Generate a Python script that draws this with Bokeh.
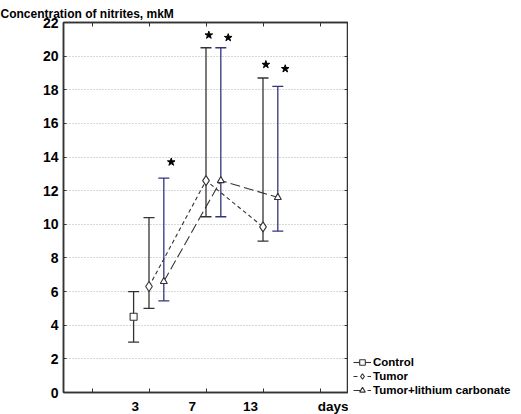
from bokeh.plotting import figure
from bokeh.layouts import row
from bokeh.models import (Range1d, FixedTicker, LinearAxis, Whisker, TeeHead,
                          ColumnDataSource, Legend, LegendItem)
from bokeh.embed import file_html
from bokeh.resources import INLINE

# dias de medicion y posicion de cada grupo en el eje
days = ["3", "7", "13"]
group_pos = [1.5, 2.5, 3.5]

control_mean = [4.5]
control_low = [3.0]
control_high = [6.0]

tumor_mean = [6.3, 12.6, 9.85]
tumor_low = [5.0, 10.45, 9.0]
tumor_high = [10.4, 20.5, 18.7]

lithium_mean = [6.6, 12.6, 11.6]
lithium_low = [5.45, 10.45, 9.6]
lithium_high = [12.75, 20.5, 18.2]

# asteriscos de significancia: (grupo, serie, altura)
star_group = [0, 1, 1, 2, 2]
star_series = ["lithium", "tumor", "lithium", "tumor", "lithium"]
star_y = [13.7, 21.25, 21.1, 19.5, 19.25]

offsets = {"control": -0.27, "tumor": 0.0, "lithium": 0.26}
star_shift = {"tumor": 0.05, "lithium": 0.13}

FONT = "Liberation Sans"
DARK = "#333333"
BLUE = "#33337f"

control_x = [group_pos[0] + offsets["control"]]
tumor_x = [g + offsets["tumor"] for g in group_pos]
lithium_x = [g + offsets["lithium"] for g in group_pos]
sx = [group_pos[g] + offsets[s] + star_shift[s] for g, s in zip(star_group, star_series)]

p = figure(frame_width=285, frame_height=370, output_backend="svg", toolbar_location=None,
           x_range=Range1d(0, 5), y_range=Range1d(0, 22),
           min_border_left=63, min_border_right=0, min_border_top=22,
           min_border_bottom=22, title="Concentration of nitrites, mkM")
p.title.align = "left"
p.title.offset = -63
p.title.standoff = 4
p.title.text_font = FONT
p.title.text_font_style = "bold"
p.title.text_font_size = "12px"
p.title.text_color = "black"
p.outline_line_color = DARK
p.outline_line_width = 1.5
p.background_fill_color = "white"
p.border_fill_color = "white"

p.xgrid.visible = False
p.ygrid.grid_line_color = "#b0b0b0"
p.ygrid.grid_line_dash = "1 2"
p.ygrid.grid_line_width = 1

minor = [0.5, 1.5, 2.5, 3.5, 4.5]
label_pos = [1.26, 2.26, 3.28, 4.9]
p.xaxis.ticker = FixedTicker(ticks=label_pos, minor_ticks=minor)
p.xaxis.major_label_overrides = {label_pos[i]: t for i, t in enumerate(days + ["days"])}
p.xaxis.major_tick_in = 0
p.xaxis.major_tick_out = 0
p.xaxis.minor_tick_in = 4
p.xaxis.minor_tick_out = 0
p.xaxis.minor_tick_line_color = DARK
p.xaxis.axis_line_color = DARK
p.xaxis.axis_line_width = 1.5
p.xaxis.major_label_text_font = FONT
p.xaxis.major_label_text_font_style = "bold"
p.xaxis.major_label_text_font_size = "13.5px"
p.xaxis.major_label_text_color = "black"
p.xaxis.major_label_standoff = 6

p.yaxis.ticker = FixedTicker(ticks=list(range(0, 23, 2)))
p.yaxis.major_tick_in = 3
p.yaxis.major_tick_out = 0
p.yaxis.minor_tick_line_color = None
p.yaxis.axis_line_color = DARK
p.yaxis.axis_line_width = 1.5
p.yaxis.major_tick_line_color = DARK
p.yaxis.major_label_text_font = FONT
p.yaxis.major_label_text_font_style = "bold"
p.yaxis.major_label_text_font_size = "14px"
p.yaxis.major_label_text_color = "black"
p.yaxis.major_label_standoff = 5

top = LinearAxis(ticker=FixedTicker(ticks=minor), major_tick_in=4, major_tick_out=0,
                 major_label_text_alpha=0, major_label_text_font_size="1px",
                 major_label_standoff=0, axis_line_color=DARK, axis_line_width=1.5,
                 major_tick_line_color=DARK, minor_tick_line_color=None)
p.add_layout(top, "above")
right = LinearAxis(ticker=FixedTicker(ticks=list(range(0, 23, 2))), major_tick_in=4,
                   major_tick_out=0, major_label_text_alpha=0,
                   major_label_text_font_size="1px", axis_line_color=DARK,
                   axis_line_width=1.5, major_tick_line_color=DARK,
                   minor_tick_line_color=None, major_label_standoff=0)
p.add_layout(right, "right")

# barras de error
black_src = ColumnDataSource(dict(x=control_x + tumor_x,
                                  lo=control_low + tumor_low,
                                  hi=control_high + tumor_high))
blue_src = ColumnDataSource(dict(x=lithium_x, lo=lithium_low, hi=lithium_high))
for src, col in ((black_src, DARK), (blue_src, BLUE)):
    p.add_layout(Whisker(source=src, base="x", lower="lo", upper="hi",
                         line_color=col, line_width=1.3,
                         upper_head=TeeHead(size=11, line_color=col, line_width=1.3),
                         lower_head=TeeHead(size=11, line_color=col, line_width=1.3)))


def draw_series(fig):
    # dibuja lineas y marcadores, devuelve los renderers para la leyenda
    tl = fig.line(tumor_x, tumor_mean, line_color=DARK, line_dash="4 3", line_width=1.1)
    ll = fig.line(lithium_x, lithium_mean, line_color=DARK, line_dash="10 4", line_width=1.1)
    cl = fig.line(control_x, control_mean, line_color=DARK, line_width=1.1)
    c = fig.scatter(control_x, control_mean, marker="square", size=7, fill_color="white",
                    line_color=DARK, line_width=1.1)
    t = fig.scatter(tumor_x, tumor_mean, marker="diamond", size=10, fill_color="white",
                    line_color=DARK, line_width=1.1)
    l = fig.scatter(lithium_x, lithium_mean, marker="triangle", size=7, fill_color="white",
                    line_color=DARK, line_width=1.1)
    return [[cl, c], [tl, t], [ll, l]]


draw_series(p)
p.scatter(sx, star_y, marker="star", size=8, fill_color="black", line_color="black")

# figura aparte para la leyenda (fuera del area de datos)
q = figure(frame_width=166, frame_height=414, output_backend="svg", toolbar_location=None,
           x_range=Range1d(100, 101), y_range=Range1d(100, 101),
           min_border=0)
q.axis.visible = False
q.grid.visible = False
q.outline_line_color = None
q.border_fill_color = "white"
rends = draw_series(q)
names = ["Control", "Tumor", "Tumor+lithium carbonate"]
legend = Legend(items=[LegendItem(label=n, renderers=r) for n, r in zip(names, rends)],
                location=(5, 17), orientation="vertical", border_line_color=None,
                background_fill_alpha=0, padding=0, margin=0, spacing=0,
                label_height=14, glyph_height=14, glyph_width=18, label_standoff=2,
                label_text_font=FONT, label_text_font_style="bold",
                label_text_font_size="11.5px", label_text_color="black")
q.add_layout(legend, "center")

open("out.html", "w").write(file_html(row(p, q), INLINE))
